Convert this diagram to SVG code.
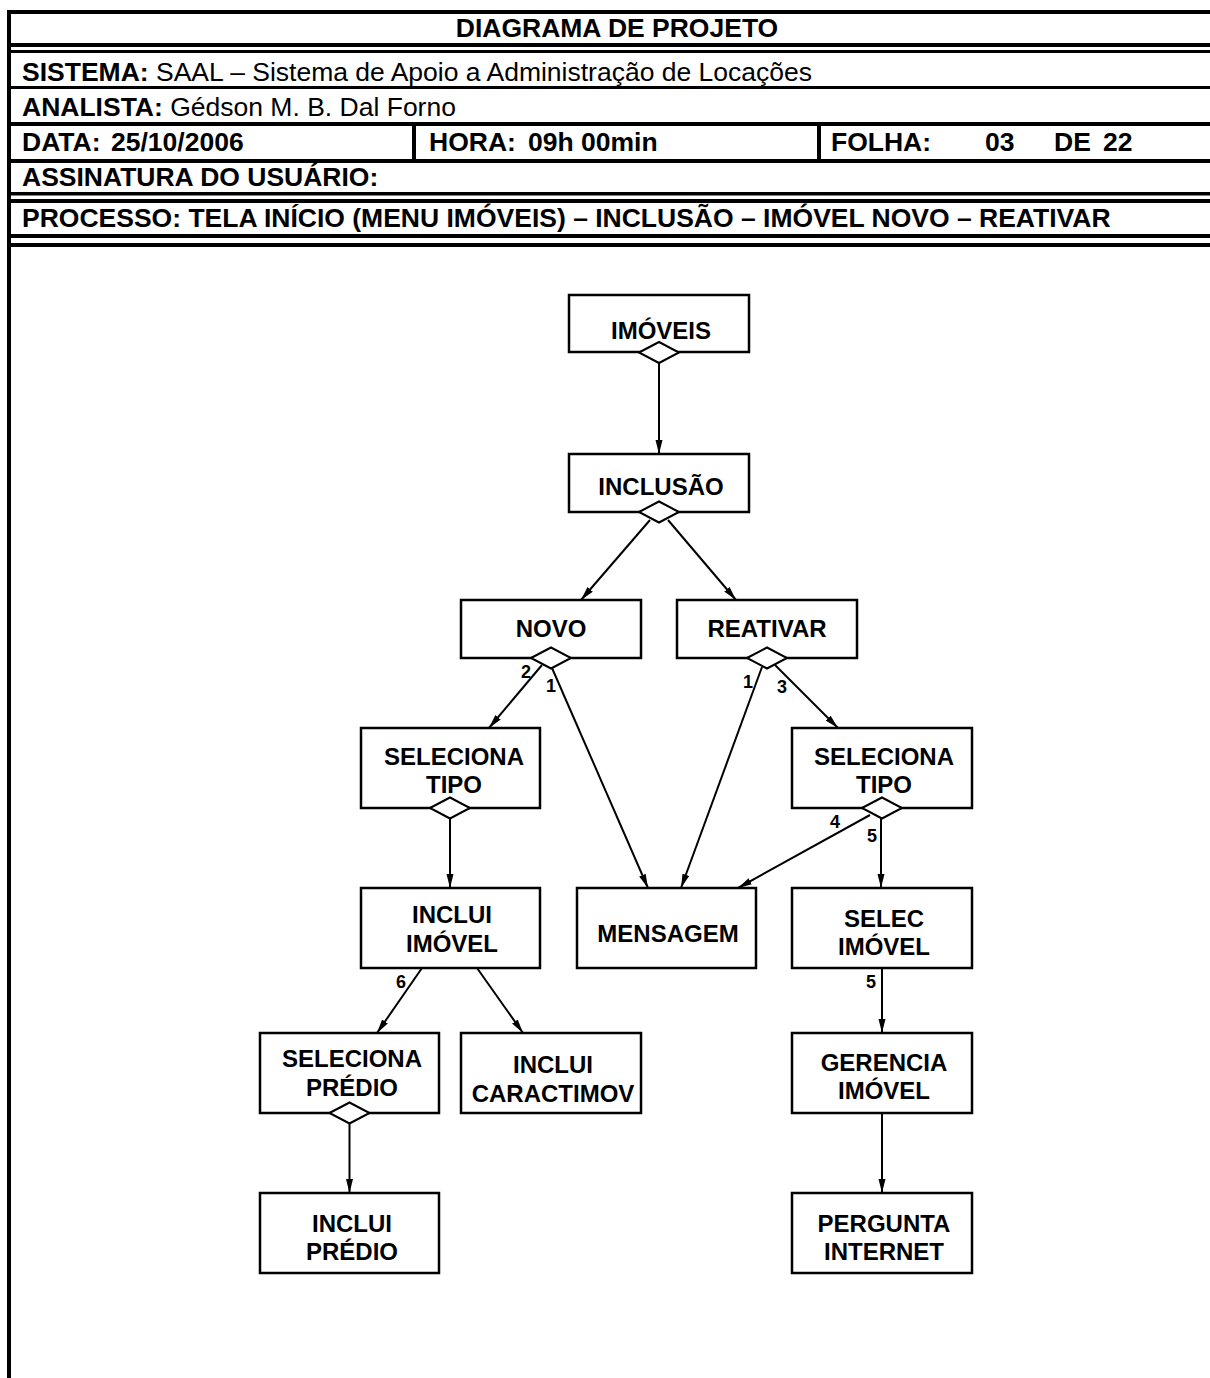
<svg xmlns="http://www.w3.org/2000/svg" xmlns:xlink="http://www.w3.org/1999/xlink" width="1210" height="1378" viewBox="0 0 1210 1378">
  <style>
    .hdr { font-family: "Liberation Sans", Arial, sans-serif; font-size: 26.5px; fill: #000; }
    .b { font-weight: bold; }
    .rule { fill: #000; }
    .box { fill: #fff; stroke: #000; stroke-width: 2.5; }
    .lbl { font-family: "Liberation Sans", Arial, sans-serif; font-size: 24px; font-weight: bold; text-anchor: middle; fill: #000; }
    .num { font-family: "Liberation Sans", Arial, sans-serif; font-size: 18px; font-weight: bold; text-anchor: middle; fill: #000; }
    .edge { fill: none; stroke: #000; stroke-width: 2; marker-end: url(#arrow); }
    .dia { fill: #fff; stroke: #000; stroke-width: 2; }
  </style>
  <defs>
    <marker id="arrow" markerUnits="userSpaceOnUse" markerWidth="14" markerHeight="8" refX="14" refY="4" orient="auto">
      <path d="M0,0.5 L14,4 L0,7.5 z" fill="#000"/>
    </marker>
    <path id="dia" class="dia" d="M-20,0 L0,-10.5 L20,0 L0,10.5 z"/>
  </defs>
  <rect width="1210" height="1378" fill="#fff"/>

  <!-- title block frame -->
  <g id="title-block">
    <rect class="rule" x="7" y="10" width="1203" height="4"/>
    <rect class="rule" x="7" y="10" width="4" height="1368"/>
    <rect class="rule" x="7" y="43" width="1203" height="4"/>
    <rect class="rule" x="7" y="50" width="1203" height="3"/>
    <rect class="rule" x="7" y="86" width="1203" height="3"/>
    <rect class="rule" x="7" y="122" width="1203" height="4"/>
    <rect class="rule" x="412" y="122" width="4" height="40"/>
    <rect class="rule" x="817" y="122" width="4" height="40"/>
    <rect class="rule" x="7" y="159" width="1203" height="4"/>
    <rect class="rule" x="7" y="192" width="1203" height="3.5"/>
    <rect class="rule" x="7" y="199" width="1203" height="4"/>
    <rect class="rule" x="7" y="234" width="1203" height="4"/>
    <rect class="rule" x="7" y="243" width="1203" height="4"/>

    <text class="hdr b" x="617" y="37" text-anchor="middle">DIAGRAMA DE PROJETO</text>
    <text class="hdr" x="22" y="81"><tspan class="b">SISTEMA:</tspan> SAAL – Sistema de Apoio a Administração de Locações</text>
    <text class="hdr" x="22" y="116"><tspan class="b">ANALISTA:</tspan> Gédson M. B. Dal Forno</text>
    <text class="hdr b" x="22" y="151">DATA:</text>
    <text class="hdr b" x="111" y="151">25/10/2006</text>
    <text class="hdr b" x="429" y="151">HORA:</text>
    <text class="hdr b" x="528" y="151">09h 00min</text>
    <text class="hdr b" x="831" y="151">FOLHA:</text>
    <text class="hdr b" x="985" y="151">03</text>
    <text class="hdr b" x="1054" y="151">DE</text>
    <text class="hdr b" x="1103" y="151">22</text>
    <text class="hdr b" x="22" y="186">ASSINATURA DO USUÁRIO:</text>
    <text class="hdr b" x="22" y="227">PROCESSO: TELA INÍCIO (MENU IMÓVEIS) – INCLUSÃO – IMÓVEL NOVO – REATIVAR</text>
  </g>

  <!-- connectors -->
  <g id="connectors">
    <line class="edge" x1="659" y1="363" x2="659" y2="454"/>
    <line class="edge" x1="650" y1="520" x2="581" y2="600"/>
    <line class="edge" x1="668" y1="520" x2="736" y2="600"/>
    <line class="edge" x1="542" y1="665" x2="489" y2="728"/>
    <line class="edge" x1="552" y1="668" x2="648" y2="888"/>
    <line class="edge" x1="762" y1="667" x2="681" y2="888"/>
    <line class="edge" x1="775" y1="665" x2="838" y2="728"/>
    <line class="edge" x1="450" y1="819" x2="450" y2="888"/>
    <line class="edge" x1="870" y1="815" x2="738" y2="888"/>
    <line class="edge" x1="881" y1="819" x2="881" y2="888"/>
    <line class="edge" x1="422" y1="968" x2="377" y2="1033"/>
    <line class="edge" x1="477" y1="968" x2="523" y2="1033"/>
    <line class="edge" x1="349.5" y1="1124" x2="349.5" y2="1193"/>
    <line class="edge" x1="882" y1="968" x2="882" y2="1033"/>
    <line class="edge" x1="882" y1="1113" x2="882" y2="1193"/>

    <text class="num" x="526" y="678">2</text>
    <text class="num" x="551" y="692">1</text>
    <text class="num" x="748" y="688">1</text>
    <text class="num" x="782" y="693">3</text>
    <text class="num" x="835" y="828">4</text>
    <text class="num" x="872" y="842">5</text>
    <text class="num" x="401" y="988">6</text>
    <text class="num" x="871" y="988">5</text>
  </g>

  <!-- nodes -->
  <g id="imoveis">
    <rect class="box" x="569" y="295" width="180" height="57"/>
    <text class="lbl" x="661" y="339">IMÓVEIS</text>
    <use xlink:href="#dia" x="659" y="352.5"/>
  </g>
  <g id="inclusao">
    <rect class="box" x="569" y="454" width="180" height="58"/>
    <text class="lbl" x="661" y="495">INCLUSÃO</text>
    <use xlink:href="#dia" x="659" y="512"/>
  </g>
  <g id="novo">
    <rect class="box" x="461" y="600" width="180" height="58"/>
    <text class="lbl" x="551" y="637">NOVO</text>
    <use xlink:href="#dia" x="551" y="658"/>
  </g>
  <g id="reativar">
    <rect class="box" x="677" y="600" width="180" height="58"/>
    <text class="lbl" x="767" y="637">REATIVAR</text>
    <use xlink:href="#dia" x="767" y="658"/>
  </g>
  <g id="seleciona-tipo-novo">
    <rect class="box" x="361" y="728" width="179" height="80"/>
    <text class="lbl" x="454" y="765">SELECIONA</text>
    <text class="lbl" x="454" y="793">TIPO</text>
    <use xlink:href="#dia" x="450" y="808"/>
  </g>
  <g id="seleciona-tipo-reativar">
    <rect class="box" x="792" y="728" width="180" height="80"/>
    <text class="lbl" x="884" y="765">SELECIONA</text>
    <text class="lbl" x="884" y="793">TIPO</text>
    <use xlink:href="#dia" x="882" y="808"/>
  </g>
  <g id="inclui-imovel">
    <rect class="box" x="361" y="888" width="179" height="80"/>
    <text class="lbl" x="452" y="923">INCLUI</text>
    <text class="lbl" x="452" y="952">IMÓVEL</text>
  </g>
  <g id="mensagem">
    <rect class="box" x="577" y="888" width="179" height="80"/>
    <text class="lbl" x="668" y="942">MENSAGEM</text>
  </g>
  <g id="selec-imovel">
    <rect class="box" x="792" y="888" width="180" height="80"/>
    <text class="lbl" x="884" y="927">SELEC</text>
    <text class="lbl" x="884" y="955">IMÓVEL</text>
  </g>
  <g id="seleciona-predio">
    <rect class="box" x="260" y="1033" width="179" height="80"/>
    <text class="lbl" x="352" y="1067">SELECIONA</text>
    <text class="lbl" x="352" y="1096">PRÉDIO</text>
    <use xlink:href="#dia" x="349.5" y="1113"/>
  </g>
  <g id="inclui-caractimov">
    <rect class="box" x="461" y="1033" width="180" height="80"/>
    <text class="lbl" x="553" y="1073">INCLUI</text>
    <text class="lbl" x="553" y="1102">CARACTIMOV</text>
  </g>
  <g id="gerencia-imovel">
    <rect class="box" x="792" y="1033" width="180" height="80"/>
    <text class="lbl" x="884" y="1071">GERENCIA</text>
    <text class="lbl" x="884" y="1099">IMÓVEL</text>
  </g>
  <g id="inclui-predio">
    <rect class="box" x="260" y="1193" width="179" height="80"/>
    <text class="lbl" x="352" y="1232">INCLUI</text>
    <text class="lbl" x="352" y="1260">PRÉDIO</text>
  </g>
  <g id="pergunta-internet">
    <rect class="box" x="792" y="1193" width="180" height="80"/>
    <text class="lbl" x="884" y="1232">PERGUNTA</text>
    <text class="lbl" x="884" y="1260">INTERNET</text>
  </g>
</svg>
